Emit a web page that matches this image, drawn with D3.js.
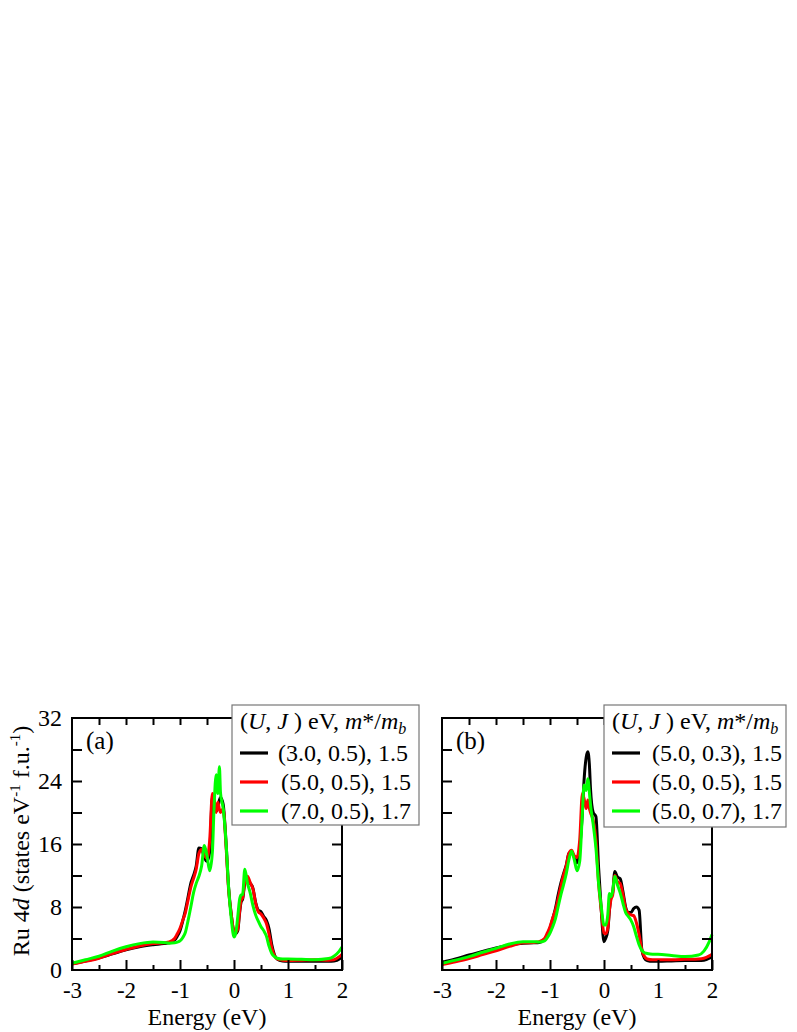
<!DOCTYPE html>
<html>
<head>
<meta charset="utf-8">
<script src="https://cdn.jsdelivr.net/npm/d3@7"></script>
<style>
  body { margin: 0; background: #fff; }
  svg { display: block; }
  text { font-family: "Liberation Serif", "Times New Roman", serif; fill: #000; }
</style>
</head>
<body>
<div id="viz"></div>
<script>
// energy grid (eV), shared by all curves
var energy = [-3, -2.75, -2.5, -2.25, -2, -1.75, -1.5, -1.3, -1.2, -1.1, -1.05, -1.0, -0.95, -0.9, -0.85, -0.8, -0.75, -0.7, -0.65, -0.6,
  -0.55, -0.5, -0.45, -0.4, -0.37, -0.33, -0.3, -0.27, -0.25, -0.2, -0.15, -0.1, -0.05, 0, 0.03, 0.07, 0.1, 0.13, 0.16, 0.2,
  0.25, 0.3, 0.35, 0.4, 0.45, 0.5, 0.55, 0.6, 0.65, 0.7, 0.75, 0.8, 0.9, 1.0, 1.25, 1.5, 1.75, 1.85, 1.95, 2.0];

// panel (a)
var aBlack = [0.8, 1.15, 1.55, 2.05, 2.55, 2.95, 3.2, 3.35, 3.45, 3.8, 4.3, 5.0, 6.2, 7.6, 9.3, 11.0, 12.0, 13.2, 15.5, 15.4,
  14.3, 13.8, 15.0, 22.0, 21.5, 20.2, 20.5, 21.6, 21.9, 21.0, 16.5, 10.5, 7.0, 4.8, 4.6, 5.0, 7.0, 8.6, 9.0, 11.0,
  11.6, 11.0, 10.4, 8.6, 7.6, 7.4, 6.8, 6.3, 5.2, 3.2, 1.9, 1.4, 1.15, 1.1, 1.1, 1.1, 1.1, 1.15, 1.4, 1.7];
var aRed = [0.75, 1.1, 1.5, 2.1, 2.6, 3.05, 3.35, 3.45, 3.55, 4.0, 4.6, 5.3, 6.3, 7.3, 8.9, 10.5, 11.6, 12.8, 14.8, 15.3,
  14.6, 14.2, 16.5, 22.4, 21.8, 20.0, 21.3, 20.4, 20.0, 20.5, 16.0, 10.2, 7.0, 4.9, 4.8, 5.2, 7.2, 8.8, 9.2, 11.2,
  11.9, 11.1, 10.3, 8.5, 7.4, 7.1, 6.6, 5.9, 4.5, 2.8, 1.8, 1.4, 1.25, 1.2, 1.25, 1.3, 1.25, 1.3, 1.7, 2.0];
var aGreen = [0.85, 1.3, 1.75, 2.4, 2.95, 3.35, 3.55, 3.5, 3.4, 3.45, 3.55, 3.7, 4.1, 4.8, 6.3, 8.0, 9.8, 11.0, 11.9, 13.2,
  15.8, 14.5, 12.6, 15.0, 20.5, 24.8, 22.4, 25.8, 22.5, 20.5, 16.5, 10.5, 6.5, 4.2, 4.6, 6.8, 8.8, 9.5, 9.6, 12.8,
  11.0, 9.8, 8.2, 7.0, 6.2, 5.5, 5.0, 4.3, 3.0, 2.1, 1.7, 1.5, 1.4, 1.4, 1.35, 1.3, 1.45, 1.75, 2.4, 2.9];

// panel (b)
var bBlack = [0.97, 1.4, 1.9, 2.35, 2.8, 3.15, 3.4, 3.45, 3.5, 3.9, 4.4, 5.3, 6.5, 7.8, 9.5, 11.0, 12.2, 13.3, 14.8, 15.0,
  14.3, 13.6, 15.5, 20.0, 24.0, 27.0, 27.7, 26.0, 23.0, 20.0, 19.5, 13.0, 7.5, 3.6, 4.0, 5.0, 7.5, 9.3, 9.8, 12.5,
  11.8, 11.6, 10.0, 8.0, 7.3, 7.3, 7.8, 8.0, 7.6, 2.6, 1.5, 1.2, 1.1, 1.1, 1.15, 1.2, 1.2, 1.25, 1.5, 1.7];
var bRed = [0.7, 1.05, 1.45, 1.95, 2.45, 3.0, 3.45, 3.5, 3.6, 4.0, 4.7, 5.5, 6.6, 7.6, 9.0, 10.6, 12.0, 13.2, 14.8, 15.2,
  14.5, 14.3, 16.5, 22.4, 21.8, 20.5, 21.6, 20.5, 20.0, 19.0, 16.5, 11.0, 7.5, 4.7, 4.6, 5.3, 7.6, 9.0, 9.5, 12.0,
  11.2, 11.0, 9.6, 7.8, 7.2, 7.0, 6.9, 6.0, 4.5, 2.6, 1.7, 1.4, 1.3, 1.3, 1.3, 1.35, 1.4, 1.5, 1.8, 2.0];
var bGreen = [0.85, 1.25, 1.7, 2.25, 2.75, 3.3, 3.6, 3.6, 3.55, 3.7, 4.1, 4.7, 5.5, 6.5, 8.0, 9.5, 10.8, 12.2, 14.0, 15.1,
  14.0, 12.6, 13.8, 20.0, 23.5, 22.8, 24.3, 22.5, 21.0, 18.5, 15.5, 11.0, 8.0, 5.7, 5.7, 7.0, 9.7, 9.3, 10.0, 11.9,
  10.8, 9.8, 8.5, 7.3, 6.8, 6.3, 5.5, 4.3, 3.2, 2.5, 2.2, 2.1, 2.0, 2.0, 1.85, 1.7, 1.9, 2.4, 3.6, 4.5];

var legendA = ["(3.0, 0.5), 1.5", "(5.0, 0.5), 1.5", "(7.0, 0.5), 1.7"];
var legendB = ["(5.0, 0.3), 1.5", "(5.0, 0.5), 1.5", "(5.0, 0.7), 1.7"];
var colors = ["#000000", "#ff0000", "#00ff00"];

var xTicks = [-3, -2, -1, 0, 1, 2];
var yTicks = [0, 8, 16, 24, 32];

var W = 797, H = 1032;
var svg = d3.select("#viz").append("svg")
    .attr("width", W)
    .attr("height", H);

var top0 = 718, bottom0 = 970;
var y = d3.scaleLinear().domain([0, 32]).range([bottom0, top0]);

function drawPanel(left, right, series, labels, tag, showY, legendBox, textX) {
    var x = d3.scaleLinear().domain([-3, 2]).range([left, right]);
    var g = svg.append("g");

    var line = d3.line()
        .x(function(d) { return x(d[0]); })
        .y(function(d) { return y(d[1]); })
        .curve(d3.curveMonotoneX);

    series.forEach(function(vals, i) {
        var pts = energy.map(function(e, j) { return [e, vals[j]]; });
        g.append("path")
            .attr("d", line(pts))
            .attr("fill", "none")
            .attr("stroke", colors[i])
            .attr("stroke-width", 3)
            .attr("stroke-linejoin", "round");
    });

    // bottom ticks (major + minor), inward
    var bx = g.append("g").attr("transform", "translate(0," + bottom0 + ")")
        .call(d3.axisBottom(x).tickValues(xTicks).tickSize(-10).tickPadding(12)
            .tickFormat(function(d) { return String(d); }));
    bx.selectAll("text").style("font-size", "23px");
    g.append("g").attr("transform", "translate(0," + bottom0 + ")")
        .call(d3.axisBottom(x).tickValues(d3.range(-2.5, 2, 1)).tickSize(-5).tickFormat(""));
    // top ticks
    g.append("g").attr("transform", "translate(0," + top0 + ")")
        .call(d3.axisTop(x).tickValues(d3.range(-2.5, 2, 0.5)).tickSize(-7).tickFormat(""));
    // left ticks
    g.append("g").attr("transform", "translate(" + left + ",0)")
        .call(d3.axisLeft(y).tickValues(d3.range(4, 32, 4)).tickSize(-10).tickFormat(""));
    if (showY) {
        g.append("g").attr("transform", "translate(" + left + ",0)")
            .call(d3.axisLeft(y).tickValues(yTicks).tickSize(0).tickPadding(10))
            .selectAll("text").style("font-size", "24px");
    }
    // right ticks
    g.append("g").attr("transform", "translate(" + right + ",0)")
        .call(d3.axisRight(y).tickValues(d3.range(4, 32, 4)).tickSize(-10).tickFormat(""));

    g.selectAll(".domain").remove();
    g.selectAll(".tick line").attr("stroke", "#000").attr("stroke-width", 2);
    g.selectAll(".tick text").attr("fill", "#000");

    // frame
    g.append("rect")
        .attr("x", left).attr("y", top0)
        .attr("width", right - left).attr("height", bottom0 - top0)
        .attr("fill", "none").attr("stroke", "#000").attr("stroke-width", 2);

    g.append("text")
        .attr("x", (left + right) / 2).attr("y", 1025)
        .attr("text-anchor", "middle")
        .style("font-size", "24px")
        .text("Energy (eV)");

    g.append("text")
        .attr("x", left + 14).attr("y", 749)
        .style("font-size", "25px")
        .text(tag);

    // legend
    var lg = g.append("g");
    lg.append("rect")
        .attr("x", legendBox[0]).attr("y", 705)
        .attr("width", legendBox[1] - legendBox[0]).attr("height", legendBox[2] - 705)
        .attr("fill", "#fff").attr("stroke", "#777").attr("stroke-width", 1.2);
    var title = lg.append("text")
        .attr("x", legendBox[0] + 8).attr("y", 729)
        .style("font-size", "24px");
    title.append("tspan").text("(");
    title.append("tspan").style("font-style", "italic").text("U");
    title.append("tspan").text(", ");
    title.append("tspan").style("font-style", "italic").text("J");
    title.append("tspan").text(" ) eV, ");
    title.append("tspan").style("font-style", "italic").text("m");
    title.append("tspan").text("*/");
    title.append("tspan").style("font-style", "italic").text("m");
    title.append("tspan").style("font-style", "italic").style("font-size", "16px").attr("dy", 5).text("b");

    var rowY = [753, 782, 811];
    labels.forEach(function(lab, i) {
        lg.append("line")
            .attr("x1", legendBox[0] + 8).attr("x2", legendBox[0] + 36)
            .attr("y1", rowY[i]).attr("y2", rowY[i])
            .attr("stroke", colors[i]).attr("stroke-width", 3.2);
        lg.append("text")
            .attr("x", textX[i]).attr("y", rowY[i] + 8)
            .style("font-size", "24px")
            .text(lab);
    });
}

drawPanel(72, 342, [aBlack, aRed, aGreen], legendA, "(a)", true, [232, 419, 825], [278, 281, 281]);
drawPanel(442, 712, [bBlack, bRed, bGreen], legendB, "(b)", false, [604, 786, 827], [652, 652, 652]);

// y axis title
var yt = svg.append("text")
    .attr("transform", "translate(29," + 841 + ") rotate(-90)")
    .attr("text-anchor", "middle")
    .style("font-size", "24px");
yt.append("tspan").text("Ru 4");
yt.append("tspan").style("font-style", "italic").text("d");
yt.append("tspan").text(" (states eV");
yt.append("tspan").style("font-size", "15px").attr("dy", -9).text("-1");
yt.append("tspan").attr("dy", 9).text(" f.u.");
yt.append("tspan").style("font-size", "15px").attr("dy", -9).text("-1");
yt.append("tspan").attr("dy", 9).text(")");
</script>
</body>
</html>
